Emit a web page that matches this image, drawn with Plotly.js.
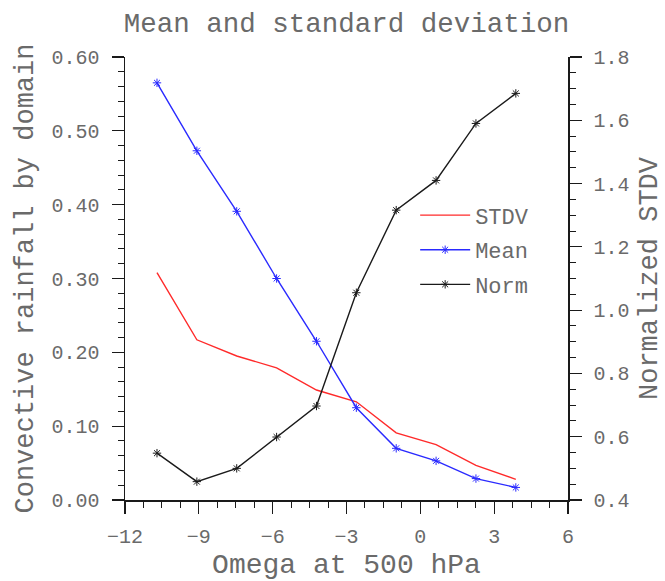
<!DOCTYPE html>
<html>
<head>
<meta charset="utf-8">
<script src="https://cdn.plot.ly/plotly-3.0.1.min.js"></script>
<style>html,body{margin:0;padding:0;background:#fff;}#chart{width:665px;height:581px;}</style>
</head>
<body>
<div id="chart"></div>
<script>
// Omega at 500 hPa (bin centres)
const omega = [-10.7, -9.08, -7.46, -5.84, -4.22, -2.6, -0.98, 0.64, 2.26, 3.88];
// Standard deviation of convective rainfall
const stdv = [0.308, 0.217, 0.195, 0.179, 0.149, 0.133, 0.091, 0.075, 0.047, 0.028];
// Mean convective rainfall
const meanVals = [0.565, 0.473, 0.391, 0.300, 0.215, 0.125, 0.070, 0.053, 0.029, 0.017];
// Normalized STDV (right axis)
const normVals = [0.548, 0.458, 0.500, 0.599, 0.697, 1.055, 1.316, 1.410, 1.590, 1.685];

const seriesNames = ['STDV', 'Mean', 'Norm'];
const xTickVals = [-12, -9, -6, -3, 0, 3, 6];
const yTickVals = [0, 0.1, 0.2, 0.3, 0.4, 0.5, 0.6];
const y2TickVals = [0.4, 0.6, 0.8, 1.0, 1.2, 1.4, 1.6, 1.8];
const titleText = 'Mean and standard deviation';
const xTitle = 'Omega at 500 hPa';
const yTitle = 'Convective rainfall by domain';
const y2Title = 'Normalized STDV';

const FONT = 'Liberation Mono';
const TXT = '#6a6a6a';
const AX = '#1a1a1a';

const traces = [
  {x: omega, y: stdv, name: seriesNames[0], mode: 'lines', legendgroup: 'a',
   line: {color: '#ff2a2a', width: 1.4}},
  {x: omega, y: meanVals, name: seriesNames[1], mode: 'lines+markers', legendgroup: 'b',
   line: {color: '#2a2aff', width: 1.4},
   marker: {symbol: 'asterisk-open', size: 7, color: '#2a2aff', line: {color: '#2a2aff', width: 1}}},
  {x: omega, y: normVals, name: seriesNames[2], mode: 'lines+markers', yaxis: 'y2', legendgroup: 'c',
   line: {color: '#1a1a1a', width: 1.4},
   marker: {symbol: 'asterisk-open', size: 7, color: '#1a1a1a', line: {color: '#1a1a1a', width: 1}}}
];

const xCommon = {
  range: [-12, 6], tickvals: xTickVals,
  showgrid: false, zeroline: false, showline: true, linecolor: AX, linewidth: 1.5,
  ticks: 'outside', ticklen: 12, tickwidth: 1.2, tickcolor: AX,
  minor: {dtick: 0.75, tick0: -12, ticks: 'outside', ticklen: 6, tickwidth: 1, tickcolor: AX, showgrid: false}
};

const layout = {
  width: 665, height: 581,
  margin: {l: 125, r: 97, t: 57, b: 81},
  paper_bgcolor: '#fff', plot_bgcolor: '#fff',
  font: {family: FONT, color: TXT, size: 20},
  title: {text: titleText, font: {family: FONT, size: 27.5, color: TXT}, x: 0.5, xanchor: 'center', xref: 'paper', y: 0.962, yanchor: 'middle'},
  showlegend: true,
  legend: {x: 0.655, y: 0.69, xanchor: 'left', yanchor: 'top', bgcolor: 'rgba(0,0,0,0)',
           font: {family: FONT, size: 22, color: TXT}, tracegroupgap: 3, itemwidth: 50},
  xaxis: Object.assign({}, xCommon, {
    tickfont: {family: FONT, size: 20, color: TXT}, ticklabelstandoff: 5,
    title: {text: xTitle, font: {family: FONT, size: 28, color: TXT}, standoff: 17}
  }),
  xaxis2: Object.assign({}, xCommon, {
    overlaying: 'x', side: 'top', anchor: 'y', showticklabels: false
  }),
  yaxis: {
    range: [0, 0.6], tickvals: yTickVals, tickformat: '.2f',
    showgrid: false, zeroline: false, showline: true, linecolor: AX, linewidth: 1.5,
    ticks: 'outside', ticklen: 12, tickwidth: 1.2, tickcolor: AX,
    minor: {dtick: 0.02, tick0: 0, ticks: 'outside', ticklen: 6, tickwidth: 1, tickcolor: AX, showgrid: false},
    tickfont: {family: FONT, size: 20, color: TXT}, ticklabelstandoff: 8,
    title: {text: yTitle, font: {family: FONT, size: 27, color: TXT}, standoff: 10}
  },
  yaxis2: {
    overlaying: 'y', side: 'right', anchor: 'x',
    range: [0.4, 1.8], tickvals: y2TickVals, tickformat: '.1f',
    showgrid: false, zeroline: false, showline: true, linecolor: AX, linewidth: 1.5,
    ticks: 'outside', ticklen: 12, tickwidth: 1.2, tickcolor: AX,
    minor: {dtick: 0.05, tick0: 0.4, ticks: 'outside', ticklen: 6, tickwidth: 1, tickcolor: AX, showgrid: false},
    tickfont: {family: FONT, size: 20, color: TXT}, ticklabelstandoff: 8,
    title: {text: y2Title, font: {family: FONT, size: 27, color: TXT}, standoff: 12}
  }
};

Plotly.newPlot('chart', traces, layout, {displayModeBar: false, staticPlot: true});
</script>
</body>
</html>
